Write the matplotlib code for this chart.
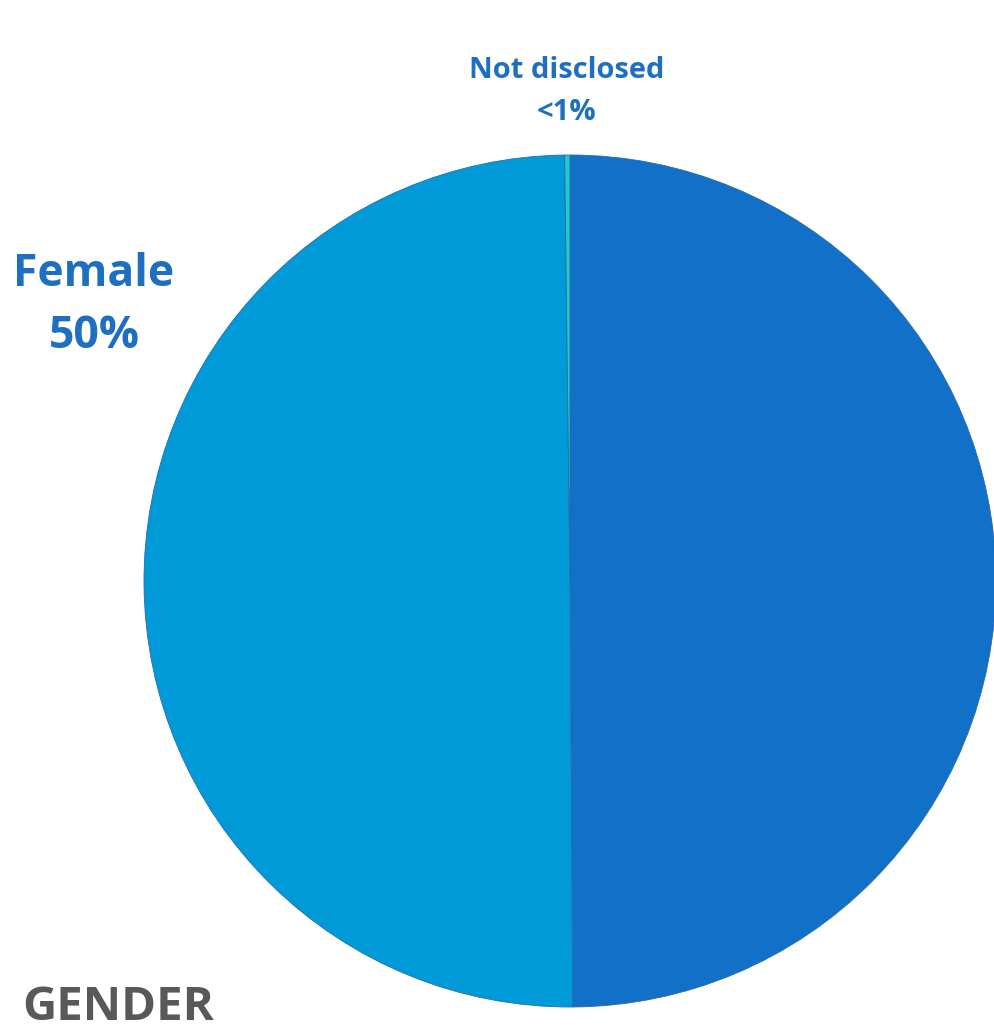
import matplotlib.pyplot as plt

# Data
labels = ["Male", "Female", "Not disclosed"]
shares = [49.9, 49.9, 0.2]
colors = ["#1170C8", "#009AD9", "#22C9C9"]

plt.rcParams['font.family'] = ['Open Sans', 'DejaVu Sans']

W, H = 994, 1034
fig = plt.figure(figsize=(W / 100, H / 100), dpi=100)

# pie centre and radius in pixels (from top-left)
cx, cy, r = 570, 581, 426
ax = fig.add_axes([(cx - r) / W, (H - cy - r) / H, 2 * r / W, 2 * r / H])
ax.pie(shares, colors=colors, startangle=90, counterclock=False, radius=1,
       wedgeprops=dict(edgecolor="#2a6aa8", linewidth=0.6))
ax.set_xlim(-1, 1)
ax.set_ylim(-1, 1)
ax.set_aspect("equal")
ax.axis("off")

# Labels
blue = "#1F6FC0"
fig.text(567 / W, 1 - 71 / H, "Not disclosed", ha="center", va="center",
         fontsize=21, fontweight="bold", color=blue)
fig.text(567 / W, 1 - 113 / H, "<1%", ha="center", va="center",
         fontsize=21, fontweight="bold", color=blue)
fig.text(94 / W, 1 - 274 / H, "Female", ha="center", va="center",
         fontsize=32, fontweight="bold", color=blue)
fig.text(94 / W, 1 - 337 / H, "50%", ha="center", va="center",
         fontsize=32, fontweight="bold", color=blue)

fig.text(22 / W, 1 - 1008 / H, "GENDER", ha="left", va="center",
         fontsize=34, fontweight="bold", color="#595959")

fig.savefig("out.png", dpi=100)
